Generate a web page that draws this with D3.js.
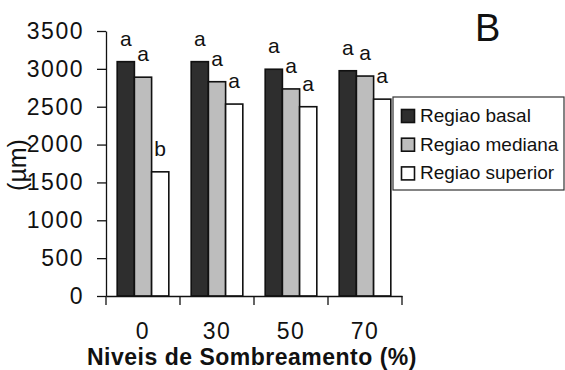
<!DOCTYPE html>
<html>
<head>
<meta charset="utf-8">
<script src="https://cdn.jsdelivr.net/npm/d3@7"></script>
<style>
  body { margin: 0; background: #fff; }
  text { font-family: "Liberation Sans", Arial, sans-serif; fill: #111; }
</style>
</head>
<body>
<div class="chart"></div>
<script>
const categories = ["0", "30", "50", "70"];
const seriesNames = ["Regiao basal", "Regiao mediana", "Regiao superior"];
const basal = [3095, 3095, 2995, 2975];
const mediana = [2890, 2830, 2735, 2905];
const superior = [1640, 2535, 2500, 2600];
const basalLetters = ["a", "a", "a", "a"];
const medianaLetters = ["a", "a", "a", "a"];
const superiorLetters = ["b", "a", "a", "a"];
const yTicks = [0, 500, 1000, 1500, 2000, 2500, 3000, 3500];

const fills = ["#2e2e2e", "#bdbdbd", "#ffffff"];

const margin = { top: 31, left: 106, right: 163, bottom: 74 };
const W = 565, H = 370;
const width = W - margin.left - margin.right;
const height = H - margin.top - margin.bottom;

const rows = [];
categories.forEach((c, i) => {
  rows.push({ cat: c, s: seriesNames[0], v: basal[i], l: basalLetters[i] });
  rows.push({ cat: c, s: seriesNames[1], v: mediana[i], l: medianaLetters[i] });
  rows.push({ cat: c, s: seriesNames[2], v: superior[i], l: superiorLetters[i] });
});

const svg = d3.select(".chart")
  .append("svg")
  .attr("width", W)
  .attr("height", H);

const g = svg.append("g")
  .attr("transform", `translate(${margin.left}, ${margin.top})`);

const x0 = d3.scaleBand().domain(categories).range([0, width]).padding(0);
const x1 = d3.scaleBand().domain(seriesNames).range([0, x0.bandwidth()])
  .paddingInner(0).paddingOuter(0.65);
const y = d3.scaleLinear().domain([0, 3500]).range([height, 0]);
const color = d3.scaleOrdinal().domain(seriesNames).range(fills);

// bars
g.selectAll(".bar")
  .data(rows)
  .enter()
  .append("rect")
  .attr("class", "bar")
  .attr("x", d => x0(d.cat) + x1(d.s))
  .attr("y", d => y(d.v))
  .attr("width", x1.bandwidth())
  .attr("height", d => height - y(d.v))
  .attr("fill", d => color(d.s))
  .attr("stroke", "#111")
  .attr("stroke-width", 1.6);

// significance letters
g.selectAll(".letter")
  .data(rows)
  .enter()
  .append("text")
  .attr("class", "letter")
  .attr("x", d => x0(d.cat) + x1(d.s) + x1.bandwidth() / 2)
  .attr("y", d => y(d.v) - 16)
  .attr("text-anchor", "middle")
  .style("font-size", "21px")
  .text(d => d.l);

// y axis
const yAxis = d3.axisLeft(y).tickValues(yTicks).tickFormat(d3.format("d"))
  .tickSize(9).tickSizeOuter(0).tickPadding(13);
g.append("g")
  .attr("class", "axis y-axis")
  .call(yAxis)
  .call(s => s.selectAll("text").style("font-size", "23px").attr("letter-spacing", "1.5px")
    .attr("font-family", null).attr("fill", null))
  .call(s => s.selectAll("line,path").attr("stroke", "#111").attr("stroke-width", 1.3));

// x axis
const xAxis = d3.axisBottom(x0).tickSize(0).tickSizeOuter(0).tickPadding(27);
g.append("g")
  .attr("class", "axis x-axis")
  .attr("transform", `translate(0, ${height})`)
  .call(xAxis)
  .call(s => s.selectAll("text").style("font-size", "23px").attr("letter-spacing", "1.5px")
    .attr("font-family", null).attr("fill", null))
  .call(s => s.selectAll("line,path").attr("stroke", "#111").attr("stroke-width", 1.3));

g.append("g")
  .selectAll("line")
  .data(categories.map(c => x0(c)).concat([width]))
  .enter()
  .append("line")
  .attr("x1", d => d).attr("x2", d => d)
  .attr("y1", height).attr("y2", height + 9)
  .attr("stroke", "#111")
  .attr("stroke-width", 1.3);

// axis titles
svg.append("text")
  .attr("x", 87)
  .attr("y", 365)
  .style("font-size", "23px")
  .attr("font-weight", "bold")
  .attr("letter-spacing", "0.5px")
  .text("Niveis de Sombreamento (%)");

svg.append("text")
  .attr("transform", "translate(26, 165) rotate(-90)")
  .attr("text-anchor", "middle")
  .style("font-size", "25px")
  .text("(µm)");

// panel letter
svg.append("text")
  .attr("x", 475)
  .attr("y", 41)
  .style("font-size", "38px")
  .text("B");

// legend
const legend = svg.append("g").attr("transform", "translate(393, 97)");
legend.append("rect")
  .attr("width", 171)
  .attr("height", 93)
  .attr("fill", "#fff")
  .attr("stroke", "#333")
  .attr("stroke-width", 1.2);

const items = legend.selectAll(".item")
  .data(seriesNames)
  .enter()
  .append("g")
  .attr("class", "item")
  .attr("transform", (d, i) => `translate(0, ${25 + i * 28.7})`);

items.append("rect")
  .attr("x", 8.5)
  .attr("y", -12.5)
  .attr("width", 13)
  .attr("height", 13)
  .attr("fill", d => color(d))
  .attr("stroke", "#111")
  .attr("stroke-width", 1.6);

items.append("text")
  .attr("x", 27)
  .attr("y", 0)
  .style("font-size", "19px")
  .text(d => d);
</script>
</body>
</html>
